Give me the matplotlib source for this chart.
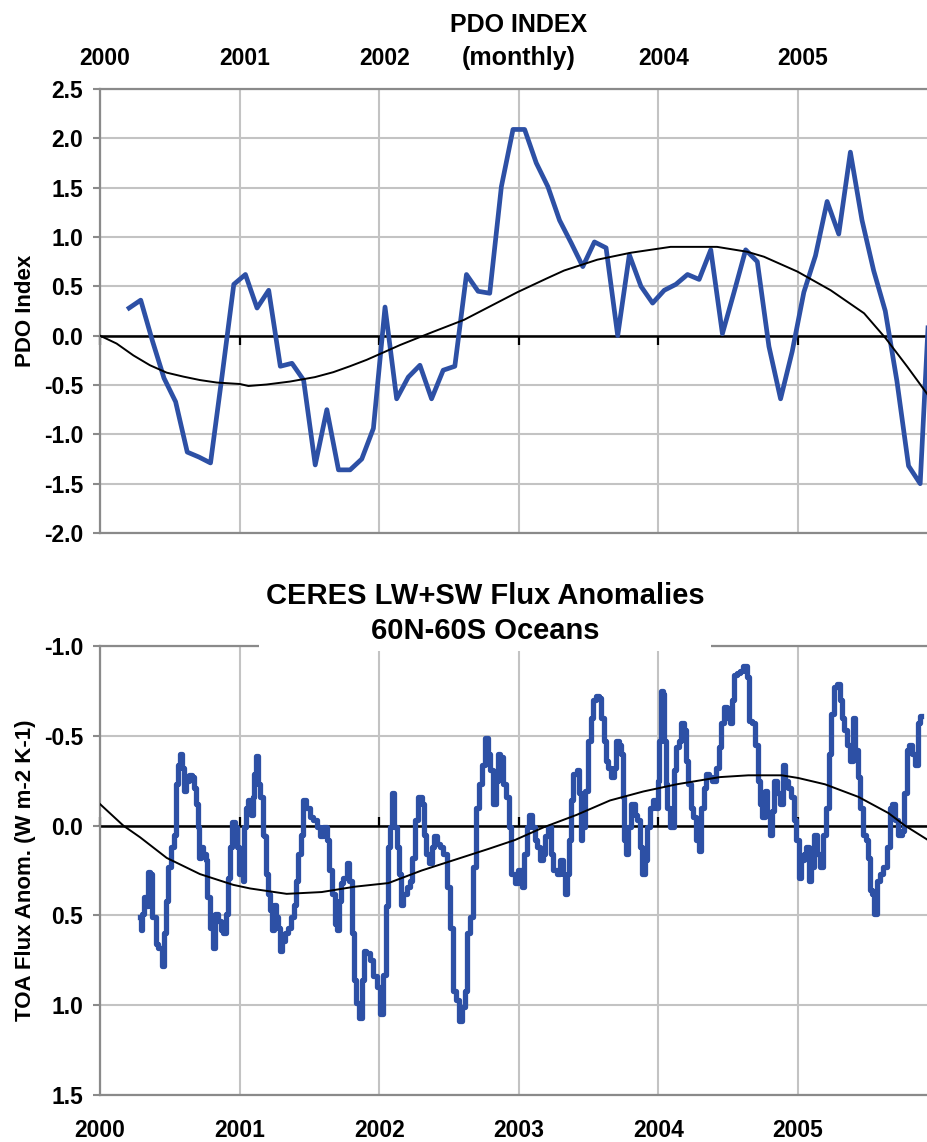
import numpy as np
import matplotlib
matplotlib.use('Agg')
import matplotlib.pyplot as plt
import matplotlib.transforms as mtransforms

plt.rcParams['font.family'] = ['Liberation Sans', 'DejaVu Sans']
plt.rcParams['font.weight'] = 'bold'
plt.rcParams['axes.unicode_minus'] = False

# ---------------- data ----------------
years = [2000, 2001, 2002, 2003, 2004, 2005]
top_year_labels = ['2000', '2001', '2002', '', '2004', '2005']
bottom_year_labels = ['2000', '2001', '2002', '2003', '2004', '2005']
pdo_yticks = [-2.0, -1.5, -1.0, -0.5, 0.0, 0.5, 1.0, 1.5, 2.0, 2.5]
flux_yticks = [-1.0, -0.5, 0.0, 0.5, 1.0, 1.5]

# PDO monthly values, March 2000 .. December 2005
pdo_first_month = 2  # 0 = Jan 2000
pdo_2000 = [0.28, 0.36, -0.05, -0.43, -0.67, -1.18, -1.23, -1.29, -0.40, 0.52]
pdo_2001 = [0.62, 0.28, 0.46, -0.31, -0.28, -0.45, -1.31, -0.75, -1.36, -1.36, -1.25, -0.94]
pdo_2002 = [0.29, -0.64, -0.42, -0.30, -0.64, -0.35, -0.31, 0.62, 0.45, 0.43, 1.51, 2.09]
pdo_2003 = [2.09, 1.75, 1.51, 1.17, 0.94, 0.70, 0.95, 0.89, 0.00, 0.82, 0.50, 0.33]
pdo_2004 = [0.46, 0.52, 0.62, 0.57, 0.87, 0.02, 0.44, 0.87, 0.75, -0.11, -0.64, -0.16]
pdo_2005 = [0.44, 0.81, 1.36, 1.03, 1.86, 1.17, 0.66, 0.25, -0.46, -1.32, -1.50, 0.85]

# smooth trend curve of the PDO panel
pdo_trend_t = [2000.0, 2000.119, 2000.239, 2000.358, 2000.478, 2000.597, 2000.716, 2000.836,
               2001.003, 2001.063, 2001.194, 2001.361, 2001.54, 2001.671, 2001.79, 2001.91,
               2002.03, 2002.149, 2002.269, 2002.388, 2002.607, 2002.798, 2002.989, 2003.20,
               2003.324, 2003.562, 2003.80, 2004.087, 2004.42, 2004.637, 2004.756, 2004.995,
               2005.234, 2005.473, 2005.628, 2005.783, 2005.93]
pdo_trend_v = [0.0, -0.08, -0.20, -0.30, -0.375, -0.415, -0.45, -0.475,
               -0.49, -0.51, -0.495, -0.465, -0.42, -0.37, -0.31, -0.245,
               -0.17, -0.095, -0.027, 0.04, 0.16, 0.30, 0.44, 0.58,
               0.66, 0.77, 0.84, 0.90, 0.90, 0.85, 0.80, 0.65,
               0.46, 0.227, -0.027, -0.315, -0.60]

# CERES LW+SW flux anomalies (running mean), by year
ceres_2000_t = [2000.287, 2000.294, 2000.306, 2000.322, 2000.339, 2000.353, 2000.370, 2000.377,
                2000.394, 2000.406, 2000.430, 2000.454, 2000.466, 2000.478, 2000.501, 2000.521,
                2000.537, 2000.549, 2000.568, 2000.580, 2000.597, 2000.609, 2000.626, 2000.645,
                2000.669, 2000.681, 2000.693, 2000.704, 2000.716, 2000.728, 2000.752, 2000.764,
                2000.776, 2000.800, 2000.812, 2000.836, 2000.855, 2000.872, 2000.896, 2000.907,
                2000.927, 2000.938, 2000.955, 2000.974, 2000.991]
ceres_2000_v = [0.51, 0.58, 0.49, 0.40, 0.45, 0.26, 0.27, 0.51,
                0.51, 0.66, 0.68, 0.78, 0.60, 0.42, 0.23, 0.12,
                0.05, -0.23, -0.34, -0.40, -0.32, -0.19, -0.25, -0.28,
                -0.27, -0.21, -0.12, 0.01, 0.18, 0.12, 0.16, 0.19,
                0.40, 0.57, 0.68, 0.49, 0.53, 0.58, 0.60, 0.49,
                0.29, 0.12, -0.02, 0.01, 0.12]
ceres_2001_t = [2001.003, 2001.015, 2001.027, 2001.039, 2001.051, 2001.070, 2001.087, 2001.098,
                2001.110, 2001.127, 2001.141, 2001.158, 2001.170, 2001.182, 2001.194, 2001.206,
                2001.223, 2001.242, 2001.254, 2001.266, 2001.282, 2001.297, 2001.313, 2001.337,
                2001.361, 2001.380, 2001.397, 2001.409, 2001.428, 2001.445, 2001.461, 2001.492,
                2001.516, 2001.540, 2001.564, 2001.588, 2001.612, 2001.636, 2001.648, 2001.672,
                2001.688, 2001.703, 2001.719, 2001.731, 2001.755, 2001.779, 2001.791, 2001.815,
                2001.827, 2001.846, 2001.870, 2001.886, 2001.898, 2001.917, 2001.946, 2001.970,
                2001.994]
ceres_2001_v = [0.27, 0.18, 0.31, 0.01, -0.10, -0.14, -0.06, -0.16,
                -0.29, -0.39, -0.23, -0.16, 0.05, 0.06, 0.27, 0.38,
                0.47, 0.58, 0.44, 0.51, 0.57, 0.70, 0.64, 0.60,
                0.57, 0.51, 0.44, 0.31, 0.16, 0.05, -0.14, -0.10,
                -0.05, -0.03, 0.01, 0.06, 0.01, 0.08, 0.25, 0.38,
                0.55, 0.58, 0.42, 0.32, 0.29, 0.21, 0.31, 0.60,
                0.86, 0.99, 1.07, 0.86, 0.70, 0.71, 0.75, 0.84,
                0.90]
ceres_2002_t = [2002.018, 2002.042, 2002.054, 2002.066, 2002.085, 2002.101, 2002.118, 2002.132,
                2002.149, 2002.161, 2002.185, 2002.209, 2002.228, 2002.245, 2002.269, 2002.292,
                2002.316, 2002.328, 2002.347, 2002.371, 2002.388, 2002.400, 2002.424, 2002.448,
                2002.472, 2002.495, 2002.519, 2002.543, 2002.562, 2002.579, 2002.603, 2002.620,
                2002.639, 2002.663, 2002.686, 2002.705, 2002.722, 2002.746, 2002.770, 2002.787,
                2002.806, 2002.825, 2002.842, 2002.858, 2002.877, 2002.901, 2002.920, 2002.937,
                2002.954, 2002.985]
ceres_2002_v = [1.05, 0.83, 0.45, 0.12, 0.01, -0.18, 0.01, 0.12,
                0.27, 0.44, 0.38, 0.34, 0.31, 0.18, -0.03, -0.16,
                -0.12, 0.05, 0.16, 0.21, 0.12, 0.06, 0.10, 0.12,
                0.16, 0.34, 0.57, 0.92, 0.97, 1.09, 1.01, 0.92,
                0.60, 0.51, 0.23, -0.10, -0.23, -0.34, -0.49, -0.40,
                -0.31, -0.12, -0.25, -0.40, -0.38, -0.23, -0.16, 0.01,
                0.27, 0.32]
ceres_2003_t = [2003.009, 2003.033, 2003.044, 2003.068, 2003.085, 2003.104, 2003.123, 2003.140,
                2003.164, 2003.176, 2003.200, 2003.219, 2003.236, 2003.259, 2003.283, 2003.307,
                2003.319, 2003.338, 2003.355, 2003.367, 2003.379, 2003.403, 2003.427, 2003.438,
                2003.450, 2003.462, 2003.486, 2003.505, 2003.522, 2003.539, 2003.563, 2003.582,
                2003.601, 2003.618, 2003.630, 2003.653, 2003.673, 2003.689, 2003.706, 2003.725,
                2003.737, 2003.749, 2003.761, 2003.773, 2003.792, 2003.821, 2003.840, 2003.856,
                2003.873, 2003.892, 2003.911, 2003.928, 2003.952, 2003.976, 2003.988]
ceres_2003_v = [0.25, 0.34, 0.16, 0.01, -0.06, 0.01, 0.08, 0.12,
                0.19, 0.16, 0.06, 0.01, 0.16, 0.25, 0.27, 0.19,
                0.27, 0.38, 0.27, 0.08, -0.14, -0.29, -0.31, -0.18,
                0.08, 0.01, -0.19, -0.47, -0.60, -0.70, -0.72, -0.71,
                -0.60, -0.47, -0.36, -0.32, -0.27, -0.32, -0.47, -0.45,
                -0.40, -0.16, 0.08, 0.16, 0.01, -0.12, -0.06, -0.03,
                0.12, 0.27, 0.19, 0.01, -0.10, -0.14, -0.10]
ceres_2004_t = [2004.000, 2004.012, 2004.024, 2004.040, 2004.047, 2004.055, 2004.071, 2004.088,
                2004.107, 2004.119, 2004.136, 2004.155, 2004.174, 2004.191, 2004.203, 2004.222,
                2004.238, 2004.262, 2004.279, 2004.298, 2004.317, 2004.334, 2004.351, 2004.370,
                2004.394, 2004.429, 2004.441, 2004.458, 2004.477, 2004.501, 2004.524, 2004.536,
                2004.548, 2004.572, 2004.596, 2004.620, 2004.644, 2004.656, 2004.680, 2004.703,
                2004.720, 2004.739, 2004.751, 2004.775, 2004.787, 2004.806, 2004.823, 2004.835,
                2004.859, 2004.878, 2004.902, 2004.918, 2004.942, 2004.959, 2004.978, 2004.997]
ceres_2004_v = [-0.25, -0.47, -0.75, -0.73, -0.47, -0.23, -0.10, 0.01,
                0.01, -0.31, -0.44, -0.47, -0.57, -0.53, -0.36, -0.23,
                -0.10, -0.05, 0.08, 0.14, -0.10, -0.21, -0.29, -0.27,
                -0.25, -0.32, -0.44, -0.57, -0.66, -0.60, -0.57, -0.70,
                -0.84, -0.85, -0.86, -0.89, -0.83, -0.58, -0.57, -0.45,
                -0.25, -0.12, -0.05, -0.19, -0.06, 0.05, -0.08, -0.25,
                -0.18, -0.12, -0.34, -0.25, -0.21, -0.16, -0.03, 0.08]
ceres_2005_t = [2005.014, 2005.031, 2005.050, 2005.069, 2005.086, 2005.102, 2005.121, 2005.145,
                2005.169, 2005.193, 2005.212, 2005.229, 2005.246, 2005.265, 2005.289, 2005.308,
                2005.324, 2005.341, 2005.360, 2005.384, 2005.403, 2005.420, 2005.437, 2005.456,
                2005.475, 2005.492, 2005.508, 2005.523, 2005.539, 2005.556, 2005.575, 2005.599,
                2005.623, 2005.647, 2005.666, 2005.683, 2005.706, 2005.730, 2005.754, 2005.771,
                2005.785, 2005.802, 2005.826, 2005.850, 2005.862, 2005.881]
ceres_2005_v = [0.29, 0.19, 0.16, 0.12, 0.31, 0.23, 0.05, 0.16,
                0.23, 0.05, -0.10, -0.40, -0.62, -0.77, -0.79, -0.70,
                -0.60, -0.53, -0.45, -0.36, -0.60, -0.42, -0.27, -0.10,
                0.05, 0.08, 0.18, 0.36, 0.38, 0.49, 0.31, 0.27,
                0.23, 0.12, -0.10, -0.12, -0.03, 0.05, 0.03, -0.18,
                -0.42, -0.45, -0.40, -0.34, -0.57, -0.61]

# smooth trend curve of the CERES panel
flux_trend_t = [2000.0, 2000.167, 2000.287, 2000.478, 2000.716, 2000.955, 2001.075, 2001.337,
                2001.588, 2001.827, 2002.066, 2002.304, 2002.543, 2002.782, 2002.973, 2003.176,
                2003.415, 2003.653, 2003.892, 2004.131, 2004.44, 2004.644, 2004.883, 2005.002,
                2005.193, 2005.432, 2005.647, 2005.766, 2005.93]
flux_trend_v = [-0.12, 0.0, 0.065, 0.18, 0.27, 0.33, 0.35, 0.38,
                0.37, 0.34, 0.32, 0.25, 0.19, 0.13, 0.08, 0.01,
                -0.06, -0.14, -0.19, -0.23, -0.27, -0.28, -0.28, -0.265,
                -0.23, -0.16, -0.07, 0.0, 0.08]

# ---------------- assemble ----------------
pdo_values = pdo_2000 + pdo_2001 + pdo_2002 + pdo_2003 + pdo_2004 + pdo_2005
pdo_time = 2000 + (np.arange(len(pdo_values)) + pdo_first_month + 0.5) / 12.0
ceres_t = ceres_2000_t + ceres_2001_t + ceres_2002_t + ceres_2003_t + ceres_2004_t + ceres_2005_t
ceres_v = ceres_2000_v + ceres_2001_v + ceres_2002_v + ceres_2003_v + ceres_2004_v + ceres_2005_v

BLUE = '#2d50a5'
GRID = '#c3c3c3'
FRAME = '#8a8a8a'
XMAX = 2005.931
FS = 16.5

W, H = 928, 1142
fig = plt.figure(figsize=(W / 100, H / 100), dpi=100)
ax1 = fig.add_axes([100 / W, 1 - 533 / H, 828 / W, 444 / H])
ax2 = fig.add_axes([100 / W, 1 - 1095 / H, 828 / W, 449 / H])


def style(ax):
    ax.set_xlim(2000, XMAX)
    ax.set_xticks(years)
    ax.grid(True, color=GRID, lw=1.5, zorder=0)
    ax.set_axisbelow(True)
    for s in ['left', 'top', 'bottom']:
        ax.spines[s].set_color(FRAME)
        ax.spines[s].set_linewidth(1.6)
    ax.spines['right'].set_visible(False)
    ax.tick_params(axis='y', length=5, width=1.5, color=FRAME, pad=7,
                   labelsize=FS, direction='out')
    for lab in ax.get_yticklabels():
        lab.set_fontweight('bold')


# ---- top panel: PDO ----
ax1.set_ylim(-2.0, 2.5)
ax1.set_yticks(pdo_yticks)
ax1.set_yticklabels([f'{v:.1f}' for v in pdo_yticks], fontweight='bold')
style(ax1)
ax1.xaxis.tick_top()
ax1.set_xticklabels(top_year_labels, fontweight='bold')
ax1.tick_params(axis='x', length=0, pad=14, labelsize=FS)
shift = mtransforms.ScaledTranslation(5 / 100, 0, fig.dpi_scale_trans)
for lab in ax1.get_xticklabels():
    lab.set_transform(lab.get_transform() + shift)
ax1.axhline(0, color='black', lw=1.8, zorder=2)
ax1.plot(years, np.zeros(len(years)), ls='none', marker=3, ms=6.5, mew=1.6,
         color='black', zorder=2, clip_on=False)
ax1.plot(pdo_time, pdo_values, color=BLUE, lw=3.4, zorder=3)
ax1.plot(pdo_trend_t, pdo_trend_v, color='black', lw=1.4, zorder=4)
ax1.set_ylabel('PDO Index', fontsize=16, fontweight='bold')
ax1.yaxis.set_label_coords(-0.077, 0.5)

fig.text(519 / W, 1 - 31.7 / H, 'PDO INDEX', ha='center', va='baseline',
         fontsize=18, fontweight='bold')
fig.text(519 / W, 1 - 65 / H, '(monthly)', ha='center', va='baseline',
         fontsize=18, fontweight='bold')

# ---- bottom panel: CERES ----
ax2.set_ylim(1.5, -1.0)
ax2.set_yticks(flux_yticks)
ax2.set_yticklabels([f'{v:.1f}' for v in flux_yticks], fontweight='bold')
style(ax2)
ax2.set_xticklabels(bottom_year_labels, fontweight='bold')
ax2.tick_params(axis='x', length=0, pad=17, labelsize=FS)
ax2.axhline(0, color='black', lw=1.8, zorder=2)
ax2.plot(years, np.zeros(len(years)), ls='none', marker=2, ms=6.5, mew=1.6,
         color='black', zorder=2, clip_on=False)
ax2.plot(ceres_t, ceres_v, color=BLUE, lw=3.8, zorder=3, drawstyle='steps-mid')
ax2.plot(flux_trend_t, flux_trend_v, color='black', lw=1.4, zorder=4)
ax2.set_ylabel('TOA Flux Anom. (W m-2 K-1)', fontsize=16, fontweight='bold')
ax2.yaxis.set_label_coords(-0.077, 0.5)

fig.text(485 / W, 1 - 613.5 / H, 'CERES LW+SW Flux Anomalies\n60N-60S Oceans',
         ha='center', va='center', fontsize=21, fontweight='bold', linespacing=1.3,
         bbox=dict(boxstyle='square,pad=0.22', fc='white', ec='none'))

fig.savefig('out.png', dpi=100)
